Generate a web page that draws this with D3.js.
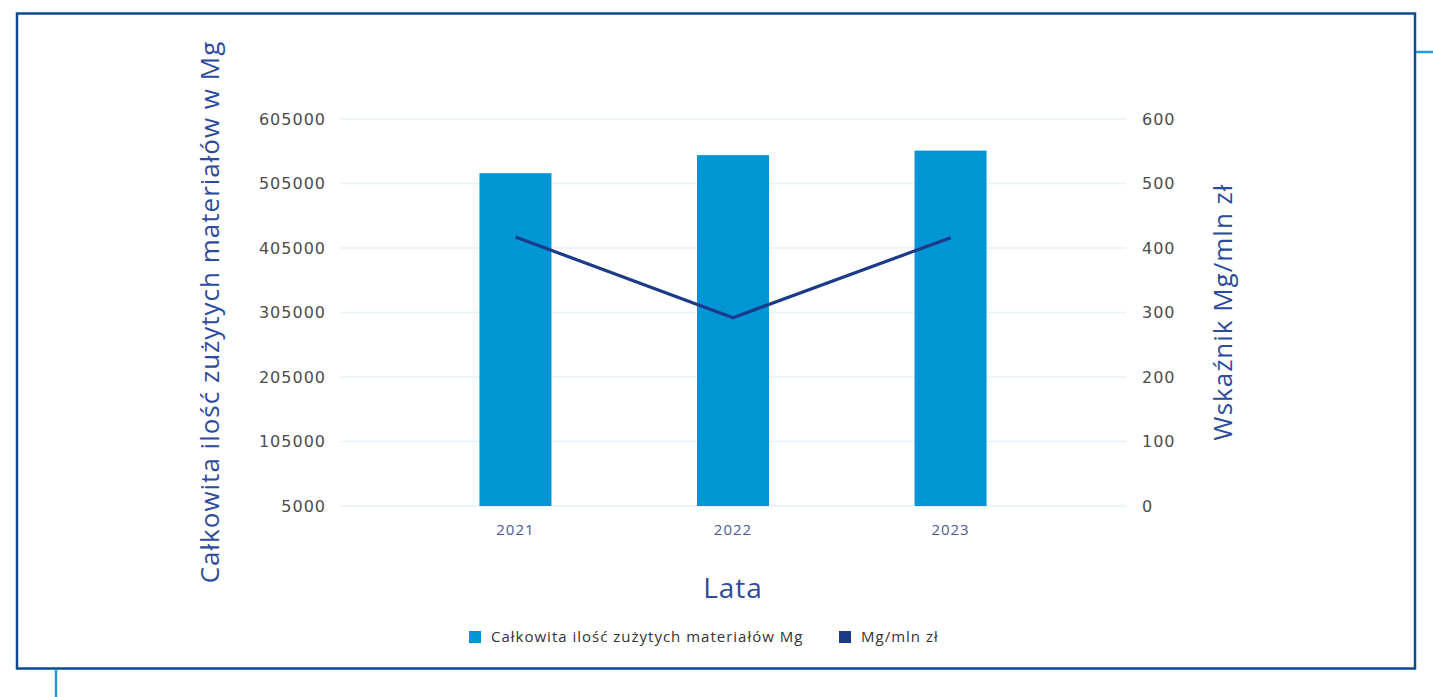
<!DOCTYPE html>
<html>
<head>
<meta charset="utf-8">
<script src="https://cdn.jsdelivr.net/npm/d3@7"></script>
<style>
  html, body {
    margin: 0;
    padding: 0;
    background: #ffffff;
  }

  #chart {
    display: block;
    font-family: "Open Sans", sans-serif;
  }

  .tick-label {
    fill: #4d4d4d;
    font-family: "DejaVu Sans", sans-serif;
    font-size: 16px;
    letter-spacing: 1px;
  }

  .grid line {
    stroke: #e6f1fb;
    stroke-width: 1.5px;
  }

  .axis-title {
    fill: #2d4b9b;
    letter-spacing: 1px;
  }
</style>
</head>
<body>
<svg id="chart" width="1433" height="697"></svg>
<script>
const years = ["2021", "2022", "2023"];
const totalMaterials = [521000, 549000, 556000];
const ratio = [417, 292, 416];
const leftTicks = [5000, 105000, 205000, 305000, 405000, 505000, 605000];
const rightTicks = [0, 100, 200, 300, 400, 500, 600];
const legendLabels = ["Całkowita ilość zużytych materiałów Mg", "Mg/mln zł"];

const barColor = "#0095d5";
const lineColor = "#1b3a8a";

const svg = d3.select("#chart");

//=== Frame ===
svg.append("rect")
  .attr("x", 17)
  .attr("y", 13.5)
  .attr("width", 1398)
  .attr("height", 655)
  .attr("fill", "none")
  .attr("stroke", "#0d4a90")
  .attr("stroke-width", 2.5);

svg.append("line")
  .attr("x1", 1416).attr("x2", 1433)
  .attr("y1", 52).attr("y2", 52)
  .attr("stroke", "#239bd8").attr("stroke-width", 2.5);

svg.append("line")
  .attr("x1", 56).attr("x2", 56)
  .attr("y1", 669).attr("y2", 697)
  .attr("stroke", "#239bd8").attr("stroke-width", 2.5);

//=== Scales ===
const x = d3.scaleBand()
  .domain(years)
  .range([340, 1126])
  .paddingInner(0.669)
  .paddingOuter(0.641);

const yLeft = d3.scaleLinear()
  .domain([5000, 605000])
  .range([506, 119]);

const yRight = d3.scaleLinear()
  .domain([0, 600])
  .range([506, 119]);

//=== Gridlines ===
svg.append("g")
  .attr("class", "grid")
  .selectAll("line")
  .data(leftTicks)
  .join("line")
  .attr("x1", 340)
  .attr("x2", 1126)
  .attr("y1", (d) => yLeft(d))
  .attr("y2", (d) => yLeft(d));

//=== Left axis ===
const leftAxis = svg.append("g")
  .attr("transform", "translate(340,0)")
  .call(d3.axisLeft(yLeft).tickValues(leftTicks).tickSize(0).tickPadding(14).tickFormat(d3.format("d")));
leftAxis.attr("font-family", null).attr("font-size", null);
leftAxis.select(".domain").remove();
leftAxis.selectAll("text").attr("class", "tick-label");

//=== Right axis ===
const rightAxis = svg.append("g")
  .attr("transform", "translate(1126,0)")
  .call(d3.axisRight(yRight).tickValues(rightTicks).tickSize(0).tickPadding(16).tickFormat(d3.format("d")));
rightAxis.attr("font-family", null).attr("font-size", null);
rightAxis.select(".domain").remove();
rightAxis.selectAll("text").attr("class", "tick-label");

//=== Bottom axis ===
const bottomAxis = svg.append("g")
  .attr("transform", "translate(0,506)")
  .call(d3.axisBottom(x).tickSize(0).tickPadding(18));
bottomAxis.attr("font-family", null).attr("font-size", null);
bottomAxis.select(".domain").remove();
bottomAxis.selectAll("text")
  .attr("font-size", 15)
  .attr("letter-spacing", "1px")
  .attr("fill", "#4b5a9e");

//=== Bars ===
svg.append("g")
  .selectAll("rect")
  .data(years)
  .join("rect")
  .attr("x", (d) => x(d))
  .attr("y", (d, i) => yLeft(totalMaterials[i]))
  .attr("width", x.bandwidth())
  .attr("height", (d, i) => yLeft(5000) - yLeft(totalMaterials[i]))
  .attr("fill", barColor);

//=== Line ===
const line = d3.line()
  .x((d, i) => x(years[i]) + x.bandwidth() / 2)
  .y((d) => yRight(d));

svg.append("path")
  .datum(ratio)
  .attr("fill", "none")
  .attr("stroke", lineColor)
  .attr("stroke-width", 3.2)
  .attr("stroke-linejoin", "round")
  .attr("d", line);

//=== Axis titles ===
svg.append("text")
  .attr("class", "axis-title")
  .attr("transform", "translate(219,312) rotate(-90)")
  .attr("text-anchor", "middle")
  .attr("font-size", 26)
  .text("Całkowita ilość zużytych materiałów w Mg");

svg.append("text")
  .attr("class", "axis-title")
  .attr("transform", "translate(1232,312) rotate(-90)")
  .attr("text-anchor", "middle")
  .attr("font-size", 26)
  .text("Wskaźnik Mg/mln zł");

svg.append("text")
  .attr("class", "axis-title")
  .attr("x", 733)
  .attr("y", 598)
  .attr("text-anchor", "middle")
  .attr("font-size", 28)
  .text("Lata");

//=== Legend ===
const legendX = [469, 839];
const legendColors = [barColor, lineColor];
const legend = svg.append("g")
  .selectAll("g")
  .data(legendLabels)
  .join("g")
  .attr("transform", (d, i) => `translate(${legendX[i]},637)`);

legend.append("rect")
  .attr("x", 0)
  .attr("y", -6)
  .attr("width", 12)
  .attr("height", 12)
  .attr("fill", (d, i) => legendColors[i]);

legend.append("text")
  .attr("x", 22)
  .attr("y", 5)
  .attr("font-size", 15)
  .attr("letter-spacing", "1px")
  .attr("fill", "#333333")
  .text((d) => d);
</script>
</body>
</html>
